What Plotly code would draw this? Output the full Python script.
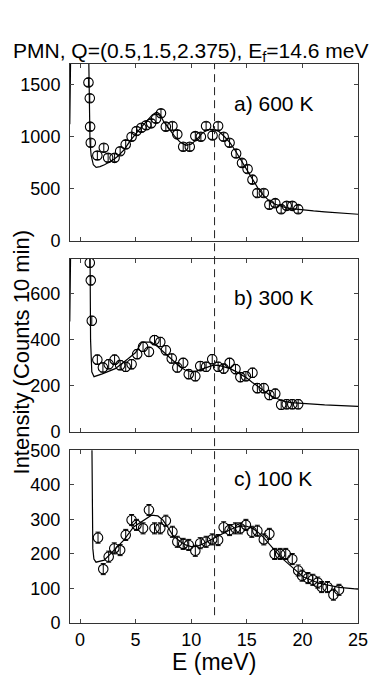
import plotly.graph_objects as go
from plotly.subplots import make_subplots

# dados (E em meV, intensidade em contagens / 10 min)
E_a = [0.76, 0.88, 0.91, 0.97, 1.56, 2.14, 2.53, 3.11, 3.61, 4.11, 4.64, 5.08, 5.52, 5.96, 6.40, 6.84,
       7.28, 7.72, 8.31, 8.75, 9.28, 9.87, 10.37, 10.87, 11.34, 11.92, 12.42, 12.92, 13.45, 14.04,
       14.57, 15.07, 15.51, 15.95, 16.53, 17.03, 17.56, 18.09, 18.59, 19.09, 19.62]
I_a = [1523, 1371, 1097, 942, 819, 894, 797, 797, 861, 926, 1000, 1055, 1087, 1110, 1129, 1174,
       1226, 1097, 1103, 1023, 903, 903, 1006, 1000, 1103, 1013, 1103, 1000, 942, 839,
       748, 690, 587, 458, 458, 345, 361, 303, 335, 335, 303]

E_b = [0.88, 0.97, 1.06, 1.56, 2.06, 2.58, 3.11, 3.61, 4.11, 4.64, 5.14, 5.67, 6.20, 6.70, 7.22,
       7.72, 8.25, 8.75, 9.28, 9.78, 10.37, 10.81, 11.34, 11.89, 12.42, 12.92, 13.45, 13.98, 14.42,
       14.92, 15.51, 15.95, 16.53, 17.03, 17.56, 18.09, 18.59, 19.09, 19.62]
I_b = [736, 659, 483, 314, 280, 294, 314, 290, 283, 294, 338, 370, 348, 399, 391,
       355, 319, 280, 300, 251, 242, 286, 283, 316, 283, 275, 300, 273, 238,
       242, 257, 190, 190, 160, 166, 118, 120, 120, 120]

E_c = [1.62, 2.09, 2.58, 3.08, 3.61, 4.11, 4.64, 5.08, 5.67, 6.20, 6.70, 7.22, 7.72, 8.31, 8.75,
       9.28, 9.78, 10.37, 10.81, 11.34, 11.89, 12.42, 12.92, 13.45, 13.98, 14.42, 14.92, 15.45,
       15.95, 16.53, 17.03, 17.50, 18.00, 18.50, 19.09, 19.62, 19.97, 20.50, 20.94, 21.38, 21.73,
       22.26, 22.79, 23.29]
I_c = [247, 156, 192, 216, 211, 255, 298, 284, 274, 327, 274, 274, 296, 264, 235,
       229, 226, 209, 231, 235, 242, 240, 277, 269, 274, 274, 284, 264,
       267, 242, 258, 200, 200, 200, 185, 152, 137, 130, 125, 117, 104,
       104, 82, 96]

# barras de erro (meia altura)
erro = [38, 20, 16]

# curvas de ajuste
fit_Ea = [-0.92, -0.84, 0.78, 0.82, 0.90, 1.0, 1.2, 1.45, 1.8, 2.2, 2.6, 3.0, 3.4, 4.0, 4.5, 5.0,
          5.5, 6.0, 6.5, 6.9, 7.2, 7.5, 8.0, 8.5, 9.0, 9.5, 10.0, 10.5, 11.0, 11.5, 12.0, 12.5,
          13.0, 13.5, 14.0, 14.5, 15.0, 15.5, 16.0, 16.5, 17.0, 17.5, 18.0, 18.5, 19.0, 19.5,
          20.0, 21.0, 22.0, 23.0, 24.0, 25.0]
fit_Ia = [1120, 1800, 1800, 1200, 950, 820, 730, 705, 712, 730, 752, 778, 812, 878, 960, 1028,
          1090, 1150, 1210, 1238, 1215, 1150, 1075, 1005, 948, 918, 928, 975, 1035, 1068, 1070, 1050,
          1000, 940, 860, 770, 680, 590, 505, 435, 385, 352, 332, 318, 309, 302,
          296, 286, 277, 269, 261, 254]

fit_Eb = [-0.92, -0.84, 0.90, 0.95, 1.06, 1.26, 2.0, 3.17, 4.35, 5.0, 5.55, 6.4, 7.0, 7.5, 8.0,
          8.5, 9.0, 9.5, 10.0, 10.5, 11.0, 11.5, 12.0, 12.5, 13.0, 13.5, 14.0, 14.5, 15.0, 15.5,
          16.0, 16.5, 17.0, 17.5, 18.0, 18.5, 19.0, 20.0, 21.0, 22.0, 23.0, 24.0, 25.0]
fit_Ib = [480, 800, 800, 400, 261, 240, 252, 275, 319, 345, 390, 390, 370, 348, 325,
          300, 282, 268, 262, 265, 274, 284, 290, 289, 283, 275, 263, 250, 234, 215,
          196, 178, 162, 148, 138, 131, 127, 123, 120, 117, 115, 113, 111]

fit_Ec = [1.07, 1.09, 1.15, 1.25, 1.44, 2.18, 3.06, 3.94, 4.82, 5.7, 6.43, 7.0, 7.46, 8.0, 8.34,
          9.0, 9.5, 10.0, 10.5, 11.0, 11.5, 12.0, 12.5, 13.0, 13.5, 14.0, 14.5, 15.0, 15.5, 16.0,
          16.5, 17.1, 18.0, 19.2, 20.06, 21.5, 23.3, 25.0]
fit_Ic = [520, 300, 216, 185, 176, 182, 211, 240, 278, 298, 312, 310, 298, 272, 254,
          236, 226, 221, 222, 228, 236, 243, 251, 261, 270, 277, 281, 280, 274, 263,
          248, 226, 192, 158, 134, 115, 103, 98]

rotulos = ['a) 600 K', 'b) 300 K', 'c) 100 K']
yticks = [[0, 500, 1000, 1500], [0, 200, 400, 600], [0, 100, 200, 300, 400, 500]]
yrange = [[0, 1700], [0, 754], [0, 500]]
xticks = [0, 5, 10, 15, 20, 25]
E_linha = 12.1  # linha tracejada

fonte = 'Liberation Sans, Arial, sans-serif'

fig = make_subplots(rows=3, cols=1, vertical_spacing=0.03)

dados = [(E_a, I_a, fit_Ea, fit_Ia), (E_b, I_b, fit_Eb, fit_Ib), (E_c, I_c, fit_Ec, fit_Ic)]
for i, (ex, iy, fx, fy) in enumerate(dados):
    fig.add_trace(go.Scatter(x=fx, y=fy, mode='lines', line=dict(color='black', width=1.2),
                             showlegend=False, hoverinfo='skip'), row=i + 1, col=1)
    fig.add_trace(go.Scatter(x=ex, y=iy, mode='markers',
                             marker=dict(symbol='circle-open', size=9.5, color='black', line=dict(width=1.1)),
                             error_y=dict(type='constant', value=erro[i], color='black', thickness=1, width=2.5),
                             showlegend=False), row=i + 1, col=1)

# dominios dos paineis (em fracao da area do grafico)
dominios = [[0.684, 1.0], [0.342, 0.652], [0.0, 0.309]]
for i in range(3):
    n = '' if i == 0 else str(i + 1)
    fig.layout['xaxis' + n].update(range=[-0.9, 25], tickvals=xticks, showticklabels=(i == 2),
                                   ticks='inside', ticklen=4, mirror='ticks', showline=True,
                                   linecolor='#333', linewidth=1, showgrid=False, zeroline=False,
                                   tickfont=dict(family=fonte, size=18, color='black'))
    fig.layout['yaxis' + n].update(range=yrange[i], tickvals=yticks[i], domain=dominios[i],
                                   ticks='inside', ticklen=4, mirror='ticks', showline=True,
                                   linecolor='#333', linewidth=1, showgrid=False, zeroline=False,
                                   ticklabelstandoff=5,
                                   tickfont=dict(family=fonte, size=18, color='black'))
    fig.add_annotation(text=rotulos[i], xref='x' + n + ' domain', yref='y' + n + ' domain',
                       x=0.561, y=[0.779, 0.778, 0.838][i], xanchor='left', yanchor='middle',
                       showarrow=False, font=dict(family=fonte, size=21, color='black'))

# linha vertical tracejada atravessando os tres paineis
fig.add_shape(type='line', xref='x3', yref='paper', x0=E_linha, x1=E_linha, y0=0.014, y1=1.0,
              line=dict(color='#222', width=1, dash='8px,5px'))

fig.add_annotation(text='PMN, Q=(0.5,1.5,2.375), E<sub>f</sub>=14.6 meV', xref='paper', yref='paper',
                   x=0.418, y=1.021, xanchor='center', yanchor='middle', showarrow=False,
                   font=dict(family=fonte, size=21, color='black'))
fig.add_annotation(text='Intensity (Counts 10 min)', xref='paper', yref='paper', x=-0.17, y=0.484,
                   textangle=-90, xanchor='center', yanchor='middle', showarrow=False,
                   font=dict(family=fonte, size=22, color='black'))
fig.add_annotation(text='E (meV)', xref='paper', yref='paper', x=0.5, y=-0.069,
                   xanchor='center', yanchor='middle', showarrow=False,
                   font=dict(family=fonte, size=23, color='black'))

# a pagina tem 8px de margem no body, por isso a figura e 8px menor
fig.update_layout(width=372, height=679, margin=dict(l=59, r=19, t=56, b=64),
                  plot_bgcolor='white', paper_bgcolor='white')

fig.write_html("out.html")
